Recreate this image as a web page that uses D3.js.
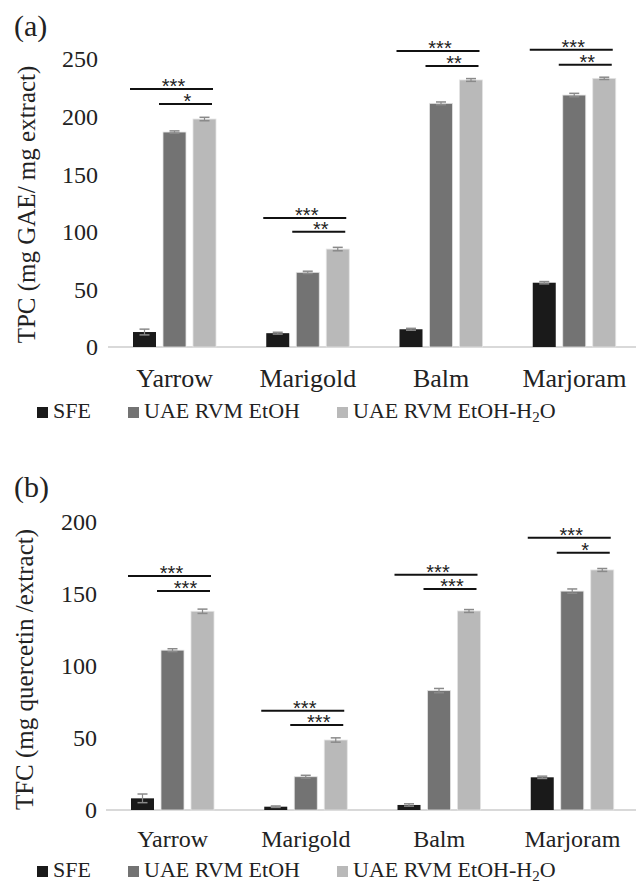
<!DOCTYPE html>
<html><head><meta charset="utf-8">
<script src="https://cdn.jsdelivr.net/npm/d3@7"></script>
<style>html,body{margin:0;padding:0;background:#fff;}svg{display:block;}
text{font-family:"Liberation Serif","Times New Roman",Times,serif;}
text.star{font-family:"Liberation Sans",Arial,sans-serif;}
</style>
</head><body>
<svg id="chart" width="638" height="883"></svg>
<script>
const categories = ["Yarrow", "Marigold", "Balm", "Marjoram"];
const seriesNames = ["SFE", "UAE RVM EtOH", "UAE RVM EtOH-H2O"];
const seriesColors = ["#1a1a1a", "#737373", "#b9b9b9"];

// (a) TPC
const tpcSFE = [13, 12, 15.4, 55.8];
const tpcEtOH = [186.6, 64.8, 211.5, 218.7];
const tpcH2O = [197.9, 85, 231.8, 233.2];
const tpcSFEErr = [2.5, 0.8, 0.8, 1];
const tpcEtOHErr = [1, 1, 1.2, 1.5];
const tpcH2OErr = [1.5, 1.5, 1.2, 1];
const tpcTicks = [0, 50, 100, 150, 200, 250];
const tpcSigLong = ["***", "***", "***", "***"];
const tpcSigShort = ["*", "**", "**", "**"];
const tpcSigLongLevel = [224, 112, 257, 258];
const tpcSigShortLevel = [211, 100, 244, 245];

// (b) TFC
const tfcSFE = [8.1, 2.3, 3.5, 22.7];
const tfcEtOH = [111, 23.1, 82.9, 152];
const tfcH2O = [138, 48.6, 138.2, 166.7];
const tfcSFEErr = [3, 0.5, 0.8, 0.8];
const tfcEtOHErr = [1, 1, 1.5, 1.5];
const tfcH2OErr = [1.5, 1.5, 1, 1];
const tfcTicks = [0, 50, 100, 150, 200];
const tfcSigLong = ["***", "***", "***", "***"];
const tfcSigShort = ["***", "***", "***", "*"];
const tfcSigLongLevel = [162.5, 69, 163.4, 189];
const tfcSigShortLevel = [152, 59, 153.5, 178.7];

const svg = d3.select("#chart");

function panel(cfg) {
  const g = svg.append("g");
  const x = d3.scaleBand().domain(categories).range(cfg.xRange).paddingInner(0).paddingOuter(0);
  const xs = d3.scaleBand().domain(seriesNames).range([25, 108]).paddingInner(7 / 30).paddingOuter(0);
  const y = d3.scaleLinear().domain(cfg.domain).range(cfg.yRange);

  // baseline axis
  g.append("line").attr("x1", cfg.xRange[0]).attr("x2", 636)
    .attr("y1", y(0)).attr("y2", y(0)).attr("stroke", "#d9d9d9").attr("stroke-width", 2);

  // y tick labels
  g.selectAll(".yt").data(cfg.ticks).enter().append("text")
    .attr("x", cfg.tickX).attr("y", d => y(d)).attr("dy", "0.35em")
    .attr("text-anchor", "end").attr("font-size", 24).attr("fill", "#222")
    .text(d => d);

  // x labels
  g.selectAll(".xl").data(categories).enter().append("text")
    .attr("x", d => x(d) + x.bandwidth() / 2).attr("y", cfg.xLabelY)
    .attr("text-anchor", "middle").attr("font-size", cfg.xLabelSize).attr("fill", "#222")
    .text(d => d);

  // bars
  cfg.series.forEach((vals, si) => {
    const name = seriesNames[si];
    categories.forEach((c, ci) => {
      const bx = x(c) + xs(name);
      const v = vals[ci];
      g.append("rect").attr("x", bx).attr("y", y(v)).attr("width", xs.bandwidth())
        .attr("height", y(0) - y(v)).attr("fill", seriesColors[si])
        .attr("stroke", si === 0 ? "none" : "#e4e4e4").attr("stroke-width", 0.8);
      const e = cfg.errors[si][ci];
      const cx = bx + xs.bandwidth() / 2;
      g.append("line").attr("x1", cx).attr("x2", cx).attr("y1", y(v - e)).attr("y2", y(v + e))
        .attr("stroke", "#8a8a8a").attr("stroke-width", 1.2);
      [v - e, v + e].forEach(val => {
        g.append("line").attr("x1", cx - 5).attr("x2", cx + 5).attr("y1", y(val)).attr("y2", y(val))
          .attr("stroke", "#8a8a8a").attr("stroke-width", 1.5);
      });
    });
  });

  // significance lines
  categories.forEach((c, ci) => {
    const x0 = x(c) + xs(seriesNames[0]);
    const x1 = x(c) + xs(seriesNames[1]);
    const x2end = x(c) + xs(seriesNames[2]) + xs.bandwidth();
    const items = [
      {a: x0 - 3, b: x2end - 3, lvl: cfg.sigLongLevel[ci], lab: cfg.sigLong[ci]},
      {a: x1 - 4, b: x2end - 4, lvl: cfg.sigShortLevel[ci], lab: cfg.sigShort[ci]}
    ];
    items.forEach(it => {
      g.append("line").attr("x1", it.a).attr("x2", it.b).attr("y1", y(it.lvl)).attr("y2", y(it.lvl))
        .attr("stroke", "#111").attr("stroke-width", 2);
      g.append("text").attr("class", "star").attr("x", (it.a + it.b) / 2 + 2).attr("y", y(it.lvl) + 4)
        .attr("text-anchor", "middle")
        .attr("font-size", 20).attr("fill", "#222").text(it.lab);
    });
  });

  // y title
  g.append("text").attr("transform", `translate(${cfg.titleX},${cfg.titleY}) rotate(-90)`)
    .attr("text-anchor", "middle").attr("font-size", 25).attr("fill", "#222")
    .text(cfg.title);

  // panel label
  g.append("text").attr("x", 14).attr("y", cfg.panelY)
    .attr("font-size", 30).attr("fill", "#222").text(cfg.panel);

  // legend
  const legX = [37, 128, 337];
  seriesNames.forEach((n, i) => {
    g.append("rect").attr("x", legX[i]).attr("y", cfg.legendY - 11).attr("width", 11).attr("height", 11)
      .attr("fill", seriesColors[i]);
    const t = g.append("text").attr("x", legX[i] + 16).attr("y", cfg.legendY)
      .attr("font-size", 22).attr("fill", "#222");
    if (n.endsWith("H2O")) {
      t.append("tspan").text(n.replace("H2O", "H"));
      t.append("tspan").attr("dy", 4).attr("font-size", 15).text("2");
      t.append("tspan").attr("dy", -4).text("O");
    } else {
      t.text(n);
    }
  });
}

panel({
  xRange: [108, 641], domain: [0, 250], yRange: [347, 59], ticks: tpcTicks, tickX: 98,
  xLabelY: 387, xLabelSize: 26, series: [tpcSFE, tpcEtOH, tpcH2O], errors: [tpcSFEErr, tpcEtOHErr, tpcH2OErr],
  sigLong: tpcSigLong, sigShort: tpcSigShort, sigLongLevel: tpcSigLongLevel, sigShortLevel: tpcSigShortLevel,
  title: "TPC (mg GAE/ mg extract)", titleX: 35, titleY: 204.5, panel: "(a)", panelY: 36, legendY: 418
});
panel({
  xRange: [106, 639], domain: [0, 200], yRange: [810, 522], ticks: tfcTicks, tickX: 97,
  xLabelY: 847, xLabelSize: 24, series: [tfcSFE, tfcEtOH, tfcH2O], errors: [tfcSFEErr, tfcEtOHErr, tfcH2OErr],
  sigLong: tfcSigLong, sigShort: tfcSigShort, sigLongLevel: tfcSigLongLevel, sigShortLevel: tfcSigShortLevel,
  title: "TFC (mg quercetin /extract)", titleX: 33, titleY: 669.5, panel: "(b)", panelY: 497, legendY: 877
});
</script>
</body></html>
